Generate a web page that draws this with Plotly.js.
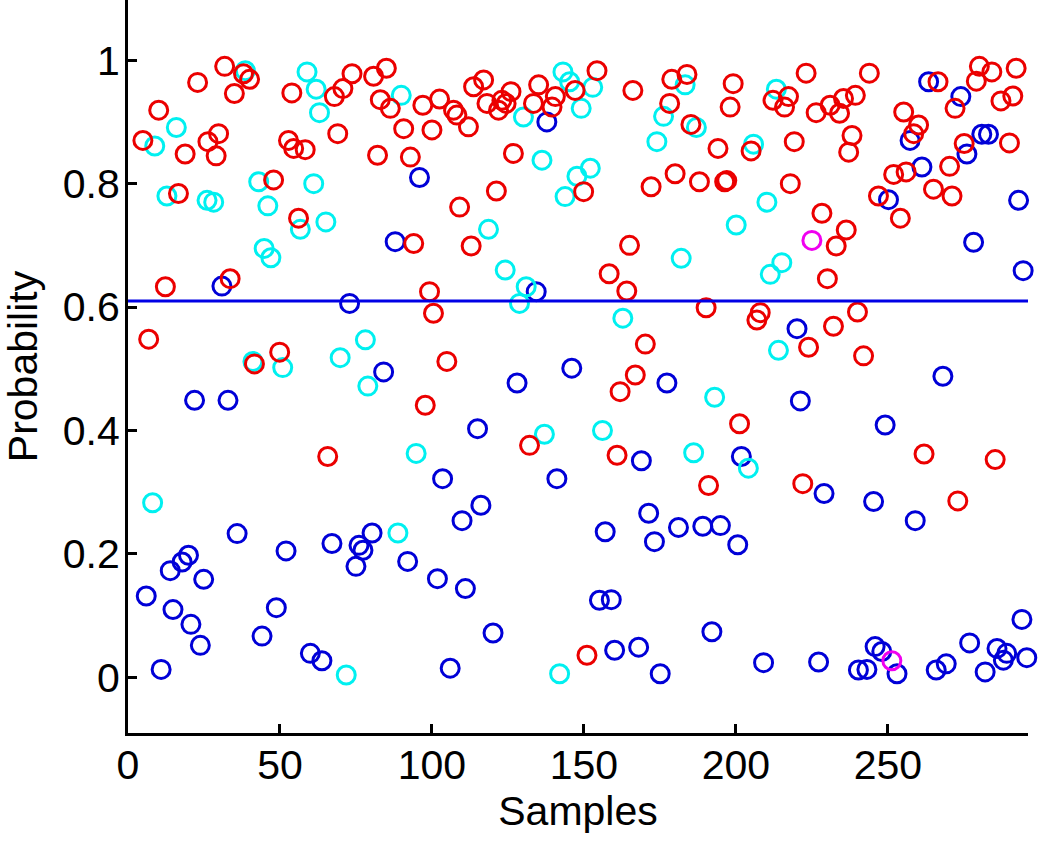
<!DOCTYPE html>
<html>
<head>
<meta charset="utf-8">
<script src="https://cdn.plot.ly/plotly-3.0.1.min.js"></script>
<style>html,body{margin:0;padding:0;background:#fff;}#chart{width:1050px;height:843px;}</style>
</head>
<body>
<div id="chart"></div>
<script>
// ---- data ----
const blueX = [95.9,87.9,30.9,72.9,84.1,21.9,32.9,103.5,35.9,19.9,17.8,13.9,24.9,6.0,14.8,20.7,23.8,10.9,52.0,67.1,80.3,76.0,77.3,75.0,92.0,101.8,48.8,44.1,60.0,63.8,137.8,134.3,146.0,128.0,177.3,115.0,141.1,168.9,116.1,109.9,157.0,171.3,173.2,181.1,189.1,194.9,200.6,201.8,111.0,120.1,106.0,155.1,159.0,160.1,168.0,175.1,192.1,263.4,274.0,257.3,276.0,280.9,283.1,261.2,250.2,293.0,278.2,294.5,268.1,221.2,249.1,229.0,245.3,259.0,209.1,227.2,245.8,248.0,240.3,243.1,253.0,265.9,269.2,276.9,282.0,285.9,289.1,288.0,295.7,294.1,220.1];
const blueY = [0.810,0.706,0.634,0.606,0.495,0.449,0.449,0.322,0.233,0.198,0.187,0.173,0.159,0.132,0.110,0.086,0.052,0.013,0.205,0.217,0.234,0.214,0.206,0.180,0.188,0.160,0.113,0.067,0.039,0.027,0.900,0.625,0.501,0.477,0.477,0.403,0.322,0.351,0.279,0.254,0.236,0.266,0.220,0.243,0.245,0.246,0.215,0.358,0.144,0.072,0.015,0.125,0.126,0.044,0.049,0.006,0.074,0.965,0.941,0.870,0.848,0.880,0.880,0.827,0.774,0.773,0.705,0.659,0.488,0.448,0.409,0.298,0.285,0.254,0.024,0.025,0.050,0.042,0.012,0.013,0.006,0.012,0.022,0.056,0.009,0.047,0.039,0.028,0.032,0.094,0.565];

const cyanX = [8.8,15.9,12.8,26.0,28.2,38.6,43.0,46.0,44.8,47.0,58.9,61.9,63.0,61.1,56.7,65.1,89.9,41.1,50.9,69.8,78.1,78.9,94.8,8.1,88.8,71.8,143.1,145.3,152.9,149.1,130.1,136.2,152.1,147.7,143.8,176.2,174.0,183.3,187.0,118.6,124.1,131.0,128.8,162.8,182.0,200.1,137.0,156.1,193.0,186.1,142.0,213.3,205.8,210.2,215.1,211.3,214.0,204.1];
const cyanY = [0.861,0.891,0.780,0.773,0.770,0.983,0.803,0.764,0.695,0.680,0.981,0.953,0.915,0.800,0.726,0.738,0.943,0.512,0.502,0.518,0.547,0.472,0.363,0.283,0.234,0.004,0.981,0.965,0.956,0.922,0.908,0.838,0.825,0.812,0.779,0.909,0.868,0.960,0.891,0.726,0.660,0.633,0.606,0.582,0.679,0.733,0.394,0.400,0.454,0.364,0.006,0.953,0.864,0.770,0.672,0.653,0.530,0.339];

const redX = [4.9,10.1,18.8,22.9,31.8,26.3,29.8,29.0,35.0,40.0,38.0,16.6,12.3,33.6,6.8,47.9,53.9,52.8,54.5,58.3,56.1,67.9,70.7,73.7,69.0,80.8,85.0,83.0,86.3,90.7,82.1,92.9,94.0,97.0,100.0,99.2,100.5,49.9,41.6,97.8,65.7,102.5,107.1,108.2,112.0,113.7,117.0,118.1,121.9,123.0,124.4,126.0,135.1,133.4,139.5,140.6,147.1,154.3,166.1,178.9,183.9,178.2,185.2,194.1,199.1,198.1,126.8,121.2,109.1,112.9,149.9,172.1,180.0,188.0,196.3,197.0,165.0,158.3,164.1,190.2,170.2,104.9,166.9,161.9,132.1,160.9,191.0,201.2,151.0,223.1,243.9,212.2,217.3,216.0,226.4,231.0,234.1,235.4,239.3,238.2,237.1,219.2,205.0,217.9,228.3,236.3,233.0,230.1,206.9,208.0,240.0,232.1,223.9,242.0,255.2,260.1,258.5,266.5,279.1,280.1,284.2,292.2,272.1,287.2,291.1,275.1,290.0,270.3,256.0,251.9,265.0,271.1,246.9,254.1,297.4,298.0,299.3,261.9,285.3,222.0,273.0];
const redY = [0.870,0.919,0.848,0.964,0.990,0.868,0.881,0.845,0.946,0.969,0.978,0.784,0.633,0.646,0.548,0.806,0.947,0.870,0.857,0.855,0.744,0.941,0.954,0.978,0.881,0.974,0.987,0.936,0.922,0.889,0.846,0.843,0.703,0.927,0.887,0.625,0.590,0.527,0.508,0.441,0.358,0.937,0.919,0.911,0.892,0.957,0.968,0.930,0.919,0.935,0.930,0.949,0.960,0.930,0.924,0.941,0.951,0.983,0.951,0.969,0.977,0.930,0.896,0.857,0.962,0.924,0.849,0.788,0.762,0.699,0.787,0.795,0.816,0.803,0.803,0.805,0.700,0.654,0.626,0.599,0.540,0.512,0.490,0.463,0.376,0.360,0.311,0.411,0.036,0.979,0.979,0.935,0.941,0.924,0.915,0.927,0.914,0.938,0.943,0.878,0.851,0.868,0.853,0.800,0.752,0.725,0.699,0.646,0.579,0.591,0.592,0.569,0.535,0.521,0.916,0.895,0.881,0.965,0.966,0.990,0.981,0.987,0.922,0.934,0.942,0.865,0.866,0.828,0.819,0.815,0.791,0.780,0.780,0.744,0.645,0.637,0.538,0.362,0.353,0.314,0.286];

const magentaX = [225.0,251.3];
const magentaY = [0.708,0.027];

const thresholdX = [0, 296.1];
const thresholdY = [0.61, 0.61];

const xTicks = [0, 50, 100, 150, 200, 250];
const yTicks = [0, 0.2, 0.4, 0.6, 0.8, 1];
const yTickText = ['0', '0.2', '0.4', '0.6', '0.8', '1'];

// ---- drawing ----
const FONT = 'Liberation Sans, Arial, Helvetica, sans-serif';
function circles(x, y, color) {
  return {
    x: x, y: y, type: 'scatter', mode: 'markers', cliponaxis: false,
    hoverinfo: 'x+y', showlegend: false,
    marker: {symbol: 'circle-open', size: 18, color: color, line: {width: 3, color: color}}
  };
}
const traces = [
  circles(blueX, blueY, 'rgb(0,0,215)'),
  circles(cyanX, cyanY, 'rgb(0,240,240)'),
  circles(redX, redY, 'rgb(235,0,0)'),
  circles(magentaX, magentaY, 'rgb(240,0,240)'),
  {x: thresholdX, y: thresholdY, type: 'scatter', mode: 'lines', showlegend: false,
   line: {color: 'rgb(0,0,230)', width: 3}}
];

const layout = {
  width: 1050, height: 843,
  margin: {l: 128, r: 22, t: 0, b: 110, pad: 0},
  paper_bgcolor: '#fff', plot_bgcolor: '#fff',
  font: {family: FONT, size: 41, color: '#000'},
  showlegend: false,
  xaxis: {
    range: [0, 296.1], autorange: false,
    tickmode: 'array', tickvals: xTicks,
    ticks: 'inside', ticklen: 9, tickwidth: 3, tickcolor: '#000',
    ticklabelstandoff: -6,
    showline: true, linewidth: 3, linecolor: '#000', mirror: false,
    showgrid: false, zeroline: false,
    tickfont: {family: FONT, size: 41, color: '#000'},
    title: {text: 'Samples', font: {family: FONT, size: 41, color: '#000'}, standoff: 9}
  },
  yaxis: {
    range: [-0.09, 1.0975], autorange: false,
    tickmode: 'array', tickvals: yTicks, ticktext: yTickText,
    ticks: 'inside', ticklen: 9, tickwidth: 3, tickcolor: '#000',
    ticklabelstandoff: -3,
    showline: true, linewidth: 3, linecolor: '#000', mirror: false,
    showgrid: false, zeroline: false,
    tickfont: {family: FONT, size: 41, color: '#000'},
    title: {text: 'Probability', font: {family: FONT, size: 41, color: '#000'}, standoff: 14}
  }
};

Plotly.newPlot('chart', traces, layout, {displayModeBar: false, staticPlot: true});
</script>
</body>
</html>
